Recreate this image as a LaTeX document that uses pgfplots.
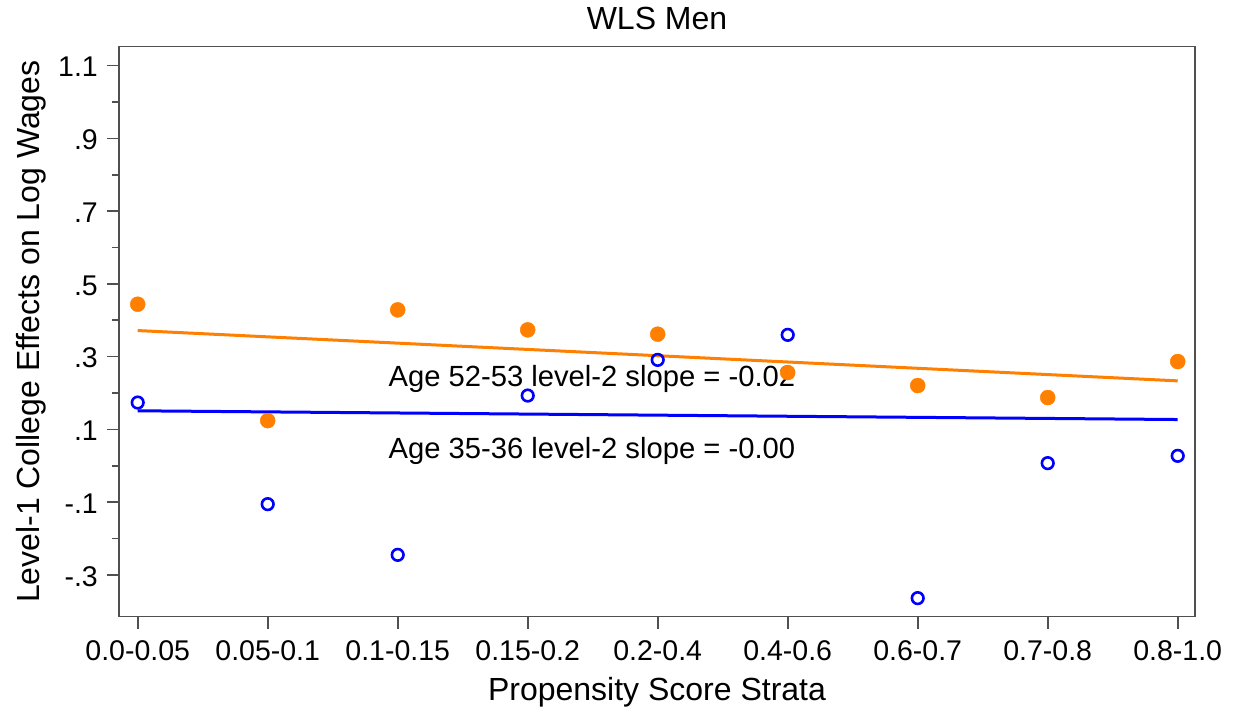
\documentclass[border=0pt]{standalone}
\usepackage{pgfplots}
\pgfplotsset{compat=1.18}
\usepackage{fontspec}
\setmainfont{Liberation Sans}
\definecolor{sorange}{RGB}{255,127,0}
\definecolor{sblue}{RGB}{0,0,255}
\definecolor{frame}{RGB}{80,80,80}
\begin{document}
\begin{tikzpicture}
\begin{axis}[
  scale only axis, width=1076pt, height=570pt,
  xmin=-0.144, xmax=8.133, ymin=-0.415, ymax=1.152,
  axis line style={frame, line width=1.6pt},
  xtick={0,1,2,3,4,5,6,7,8},
  xticklabels={0.0-0.05,0.05-0.1,0.1-0.15,0.15-0.2,0.2-0.4,0.4-0.6,0.6-0.7,0.7-0.8,0.8-1.0},
  ytick={-0.3,-0.1,0.1,0.3,0.5,0.7,0.9,1.1},
  yticklabels={-.3,-.1,.1,.3,.5,.7,.9,1.1},
  minor ytick={-0.2,0,0.2,0.4,0.6,0.8,1.0},
  tick align=outside, xtick pos=bottom, ytick pos=left,
  major tick length=12pt, minor tick length=7pt,
  every tick/.style={frame, line width=1.6pt},
  xticklabel style={anchor=base, inner sep=0pt, yshift=-32pt, font=\fontsize{28.5}{34}\selectfont},
  yticklabel style={anchor=east, inner sep=0pt, xshift=-9pt, yshift=-1.5pt, font=\fontsize{28.5}{34}\selectfont},
  xlabel={Propensity Score Strata},
  ylabel={Level-1 College Effects on Log Wages},
  title={WLS Men},
  xlabel style={at={(axis description cs:0.5,-0.1474)}, anchor=base, font=\fontsize{32}{38}\selectfont},
  ylabel style={at={(axis description cs:-0.0743,0.5)}, anchor=base, font=\fontsize{32}{38}\selectfont},
  title style={at={(axis description cs:0.5,1.0205)}, anchor=base, font=\fontsize{32}{38}\selectfont},
  clip=false,
]
\node[anchor=base west, inner sep=0pt, font=\fontsize{29.2}{34}\selectfont] at (axis cs:1.928,0.2177) {Age 52-53 level-2 slope = -0.02};
\node[anchor=base west, inner sep=0pt, font=\fontsize{29.2}{34}\selectfont] at (axis cs:1.928,0.0208) {Age 35-36 level-2 slope = -0.00};
\addplot[only marks, mark=*, color=sorange, mark size=7.5pt] coordinates {
  (0,0.444) (1,0.124) (2,0.4285) (3,0.3735) (4,0.3617) (5,0.2561) (6,0.2204) (7,0.1874) (8,0.2864)};
\addplot[only marks, mark=o, color=sblue, mark size=5.8pt, line width=2.6pt] coordinates {
  (0,0.1737) (1,-0.1056) (2,-0.245) (3,0.1929) (4,0.291) (5,0.3598) (6,-0.364) (7,0.0071) (8,0.0272)};
\addplot[sorange, line width=3pt] coordinates {(0,0.3716) (8,0.2333)};
\addplot[sblue, line width=3pt] coordinates {(0,0.151) (8,0.127)};
\end{axis}
\path[use as bounding box] ([xshift=-119pt,yshift=-96.3pt]current axis.south west) rectangle ([xshift=48pt,yshift=46.7pt]current axis.north east);
\end{tikzpicture}
\end{document}
